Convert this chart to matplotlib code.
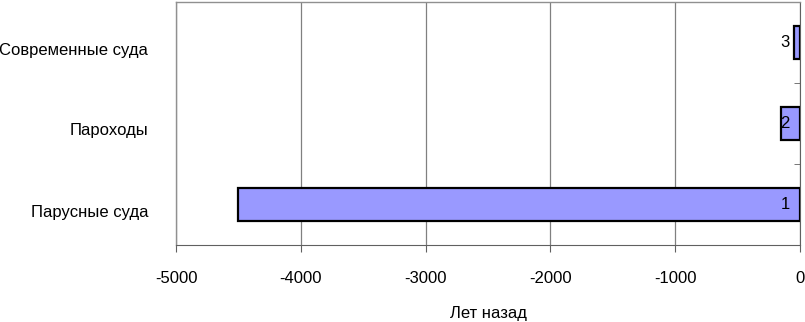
import matplotlib.pyplot as plt
import matplotlib.transforms as mtransforms
from matplotlib import font_manager

categories = ["Парусные суда", "Пароходы", "Современные суда"]
years_ago = [-4500, -150, -50]
bar_labels = ["1", "2", "3"]
x_ticks = [-5000, -4000, -3000, -2000, -1000, 0]

names = {f.name for f in font_manager.fontManager.ttflist}
narrow = "Liberation Sans Narrow" in names
plt.rcParams["font.family"] = (["Liberation Sans Narrow"] if narrow else []) + ["Liberation Sans", "DejaVu Sans"]
fs = 14 if narrow else 12

fig = plt.figure(figsize=(8.05, 3.22), dpi=100)
# axes box: x 176..800 px, y 2..245 px
ax = fig.add_axes([176 / 805, 1 - 245 / 322, 624 / 805, 243 / 322])

pos = list(range(len(categories)))
ax.barh(pos, years_ago, height=0.41, color="#9999FF", edgecolor="black",
        linewidth=1.6, zorder=3)

for p, lab in zip(pos, bar_labels):
    ax.text(-120, p, lab, ha="center", va="center", fontsize=fs, zorder=4)

ax.set_xlim(-5000, 0)
ax.set_ylim(-0.5, len(categories) - 0.5)
ax.set_xticks(x_ticks)
ax.set_xticklabels([str(v) for v in x_ticks], fontsize=fs)
ax.xaxis.grid(True, color="#808080", linewidth=0.9, zorder=0)

ax.set_yticks(pos)
ax.set_yticklabels(categories, fontsize=fs)
ax.tick_params(axis="y", length=0, pad=20)
# category labels sit a little below the bar centres in the original
shift = mtransforms.ScaledTranslation(0, -6 / 100, fig.dpi_scale_trans)
for lbl in ax.get_yticklabels():
    lbl.set_transform(lbl.get_transform() + shift)
ax.set_yticks([0.5, 1.5], minor=True)
ax.tick_params(axis="y", which="minor", length=4, direction="in",
               left=False, right=True, color="#606060")
ax.tick_params(axis="x", length=5, direction="out", color="#606060", pad=14)

for side in ("top", "left"):
    ax.spines[side].set_color("#909090")
    ax.spines[side].set_linewidth(1.0)
ax.spines["bottom"].set_color("#606060")
ax.spines["right"].set_color("#606060")

ax.set_xlabel("Лет назад", fontsize=fs, labelpad=14)

fig.savefig("out.png", dpi=100)
